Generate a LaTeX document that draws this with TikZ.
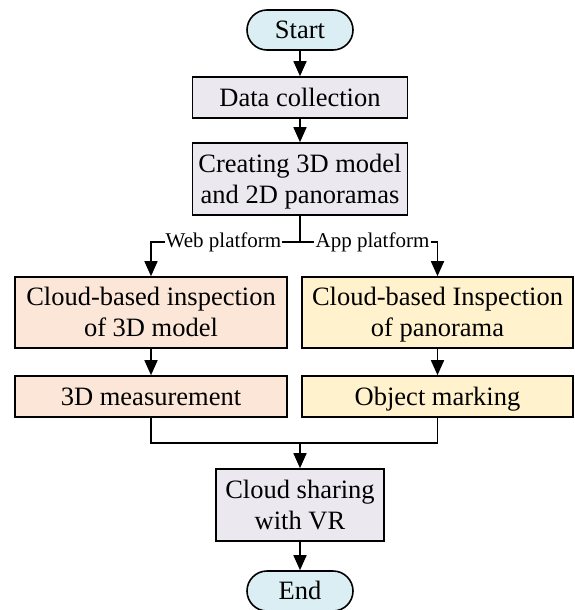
\documentclass[tikz,border=0pt]{standalone}
\usepackage{fontspec}
\setmainfont{Liberation Serif}
\usetikzlibrary{arrows.meta,shapes.misc}
\definecolor{termfill}{HTML}{DAEEF3}
\definecolor{mainfill}{HTML}{EBE8F0}
\definecolor{webfill}{HTML}{FBE6D8}
\definecolor{appfill}{HTML}{FFF2CC}
\newcommand\lnstrut{\rule[-6.75pt]{0pt}{31pt}}
\tikzset{
  base/.style={draw=black, line width=1.6pt, inner sep=0pt, align=center,
    font=\fontsize{26.5}{31}\selectfont},
  term/.style={base, rounded rectangle, fill=termfill, minimum width=106pt, minimum height=40pt},
  mainbox/.style={base, rectangle, fill=mainfill},
  webbox/.style={base, rectangle, fill=webfill, minimum width=272pt},
  appbox/.style={base, rectangle, fill=appfill, minimum width=271pt},
  lbl/.style={inner xsep=1pt, inner ysep=0pt, font=\fontsize{21}{24}\selectfont},
  conn/.style={line width=1.6pt, draw=black},
  arr/.style={conn, -{Triangle[width=13pt,length=15pt]}}
}
\begin{document}
\begin{tikzpicture}[x=1pt,y=-1pt]
\useasboundingbox (0,0) rectangle (574,610);
\node[term] (start) at (300,30) {\lnstrut Start};
\node[mainbox, minimum width=215pt, minimum height=41pt] (data) at (300,97.5) {\lnstrut Data collection};
\node[mainbox, minimum width=215pt, minimum height=72pt] (create) at (300,179) {\lnstrut Creating 3D model\\\lnstrut and 2D panoramas};
\node[webbox, minimum height=71pt] (webinsp) at (151,312.5) {\lnstrut Cloud-based inspection\\\lnstrut of 3D model};
\node[appbox, minimum height=71pt] (appinsp) at (437.5,312.5) {\lnstrut Cloud-based Inspection\\\lnstrut of panorama};
\node[webbox, minimum height=41pt] (meas) at (151,396.5) {\lnstrut 3D measurement};
\node[appbox, minimum height=41pt] (mark) at (437.5,396.5) {\lnstrut Object marking};
\node[mainbox, minimum width=168pt, minimum height=72pt] (cloud) at (300,505) {\lnstrut Cloud sharing\\\lnstrut with VR};
\node[term] (end) at (300,591) {\lnstrut End};
\node[lbl] (web) at (223.5,242) {Web platform};
\node[lbl] (app) at (372.5,242) {App platform};
\coordinate (br) at (300,242);
\coordinate (mg) at (300,443);
\draw[arr] (start) -- (data);
\draw[arr] (data) -- (create);
\draw[conn] (create.south) -- (br);
\draw[conn] (web.east) -- (br) -- (app.west);
\draw[arr] (web.west) -| (webinsp.north);
\draw[arr] (app.east) -| (appinsp.north);
\draw[arr] (webinsp) -- (meas);
\draw[arr] (appinsp) -- (mark);
\draw[conn] (meas.south) |- (mg) -| (mark.south);
\draw[arr] (mg) -- (cloud.north);
\draw[arr] (cloud) -- (end);
\end{tikzpicture}
\end{document}
